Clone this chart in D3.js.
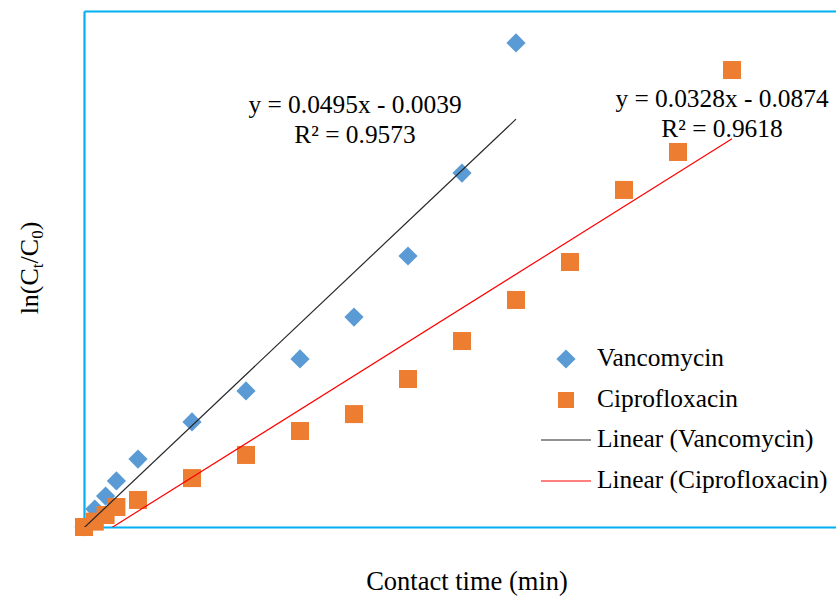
<!DOCTYPE html>
<html>
<head>
<meta charset="utf-8">
<script src="https://cdn.jsdelivr.net/npm/d3@7"></script>
<style>
  html, body { margin: 0; padding: 0; background: #fff; }
  svg { display: block; }
  text { font-family: "Liberation Serif", "Times New Roman", serif; fill: #000; }
</style>
</head>
<body>
<svg id="chart" width="836" height="603"></svg>
<script>
// ---- data (time in min, ln(Ct/C0)) ----
const vancoTime = [0, 1, 2, 3, 5, 10, 15, 20, 25, 30, 35, 40];
const vancoVal  = [0, 0.087, 0.150, 0.223, 0.329, 0.509, 0.659, 0.814, 1.017, 1.313, 1.715, 2.345];
const ciproTime = [0, 1, 2, 3, 5, 10, 15, 20, 25, 30, 35, 40, 45, 50, 55, 60];
const ciproVal  = [0, 0.026, 0.058, 0.097, 0.131, 0.237, 0.349, 0.465, 0.547, 0.717, 0.901, 1.10, 1.284, 1.633, 1.817, 2.214];
const vancoFit = { slope: 0.0495, intercept: -0.0039 };
const ciproFit = { slope: 0.0328, intercept: -0.0874 };
const vancoEq = ["y = 0.0495x - 0.0039", "R\u00B2 = 0.9573"];
const ciproEq = ["y = 0.0328x - 0.0874", "R\u00B2 = 0.9618"];
const legendLabels = ["Vancomycin", "Ciprofloxacin", "Linear (Vancomycin)", "Linear (Ciprofloxacin)"];
const xTitle = "Contact time (min)";

const xDomain = [0, 70];
const yDomain = [0, 2.5];

const colors = { vanco: "#5B9BD5", cipro: "#ED7D31", vLine: "#262626", cLine: "#FF0000", frame: "#00B0F0" };

const svg = d3.select("#chart");
const plot = { left: 84, top: 11, right: 840, bottom: 527 };

const x = d3.scaleLinear().domain(xDomain).range([plot.left, plot.right]);
const y = d3.scaleLinear().domain(yDomain).range([plot.bottom, plot.top]);

svg.append("defs").append("clipPath").attr("id", "clip")
  .append("rect")
  .attr("x", plot.left).attr("y", plot.top)
  .attr("width", plot.right - plot.left).attr("height", plot.bottom - plot.top);

// frame via axes without ticks
const frameStyle = g => g.select(".domain").attr("stroke", colors.frame).attr("stroke-width", 2.2);
svg.append("g").attr("transform", `translate(0,${plot.bottom})`)
  .call(d3.axisBottom(x).tickValues([]).tickSizeOuter(0)).call(frameStyle);
svg.append("g").attr("transform", `translate(0,${plot.top})`)
  .call(d3.axisTop(x).tickValues([]).tickSizeOuter(0)).call(frameStyle);
svg.append("g").attr("transform", `translate(${plot.left},0)`)
  .call(d3.axisLeft(y).tickValues([]).tickSizeOuter(0)).call(frameStyle);

// markers
const vanco = vancoTime.map((t, i) => ({ t, v: vancoVal[i] }));
const cipro = ciproTime.map((t, i) => ({ t, v: ciproVal[i] }));

const diamond = d3.symbol().type(d3.symbolSquare).size(185);
svg.append("g").selectAll("path").data(vanco).join("path")
  .attr("d", diamond)
  .attr("transform", d => `translate(${x(d.t)},${y(d.v)}) rotate(45)`)
  .attr("fill", colors.vanco);

const sq = 18;
svg.append("g").selectAll("rect").data(cipro).join("rect")
  .attr("x", d => x(d.t) - sq / 2).attr("y", d => y(d.v) - sq / 2)
  .attr("width", sq).attr("height", sq)
  .attr("fill", colors.cipro);

// trend lines
const trend = (fit, ts) => {
  const ext = d3.extent(ts);
  return ext.map(t => ({ t, v: fit.slope * t + fit.intercept }));
};
const line = d3.line().x(d => x(d.t)).y(d => y(d.v));
const tl = svg.append("g").attr("clip-path", "url(#clip)");
tl.append("path").datum(trend(vancoFit, vancoTime)).attr("d", line)
  .attr("fill", "none").attr("stroke", colors.vLine).attr("stroke-width", 1.2);
tl.append("path").datum(trend(ciproFit, ciproTime)).attr("d", line)
  .attr("fill", "none").attr("stroke", colors.cLine).attr("stroke-width", 1.2);

// equations
const fs = 25.4;
const eq = (lines, cx, by) => {
  svg.append("g").selectAll("text").data(lines).join("text")
    .attr("x", cx).attr("y", (d, i) => by + i * 29.5)
    .attr("text-anchor", "middle").attr("font-size", fs).text(d => d);
};
eq(vancoEq, 355, 113);
eq(ciproEq, 722, 107);

// legend
const lg = svg.append("g");
const lx = 597;
const rows = [359, 400, 440, 481];
lg.append("path").attr("d", diamond)
  .attr("transform", `translate(566,${rows[0]}) rotate(45)`).attr("fill", colors.vanco);
lg.append("rect").attr("x", 566 - 8).attr("y", rows[1] - 8).attr("width", 16).attr("height", 16)
  .attr("fill", colors.cipro);
lg.append("line").attr("x1", 541).attr("x2", 591).attr("y1", rows[2]).attr("y2", rows[2])
  .attr("stroke", colors.vLine).attr("stroke-width", 1.2);
lg.append("line").attr("x1", 541).attr("x2", 591).attr("y1", rows[3]).attr("y2", rows[3])
  .attr("stroke", colors.cLine).attr("stroke-width", 1.2);
lg.selectAll("text").data(legendLabels).join("text")
  .attr("x", lx).attr("y", (d, i) => rows[i] + 7)
  .attr("font-size", fs).text(d => d);

// axis titles
svg.append("text").attr("x", 467).attr("y", 590).attr("text-anchor", "middle")
  .attr("font-size", 26.5).text(xTitle);

const yt = svg.append("text").attr("transform", "translate(38,268) rotate(-90)")
  .attr("text-anchor", "middle").attr("font-size", 26);
yt.append("tspan").text("ln(C");
yt.append("tspan").attr("font-size", 17).attr("dy", 5).text("t");
yt.append("tspan").attr("dy", -5).text("/C");
yt.append("tspan").attr("font-size", 17).attr("dy", 5).text("0");
yt.append("tspan").attr("dy", -5).text(")");
</script>
</body>
</html>
